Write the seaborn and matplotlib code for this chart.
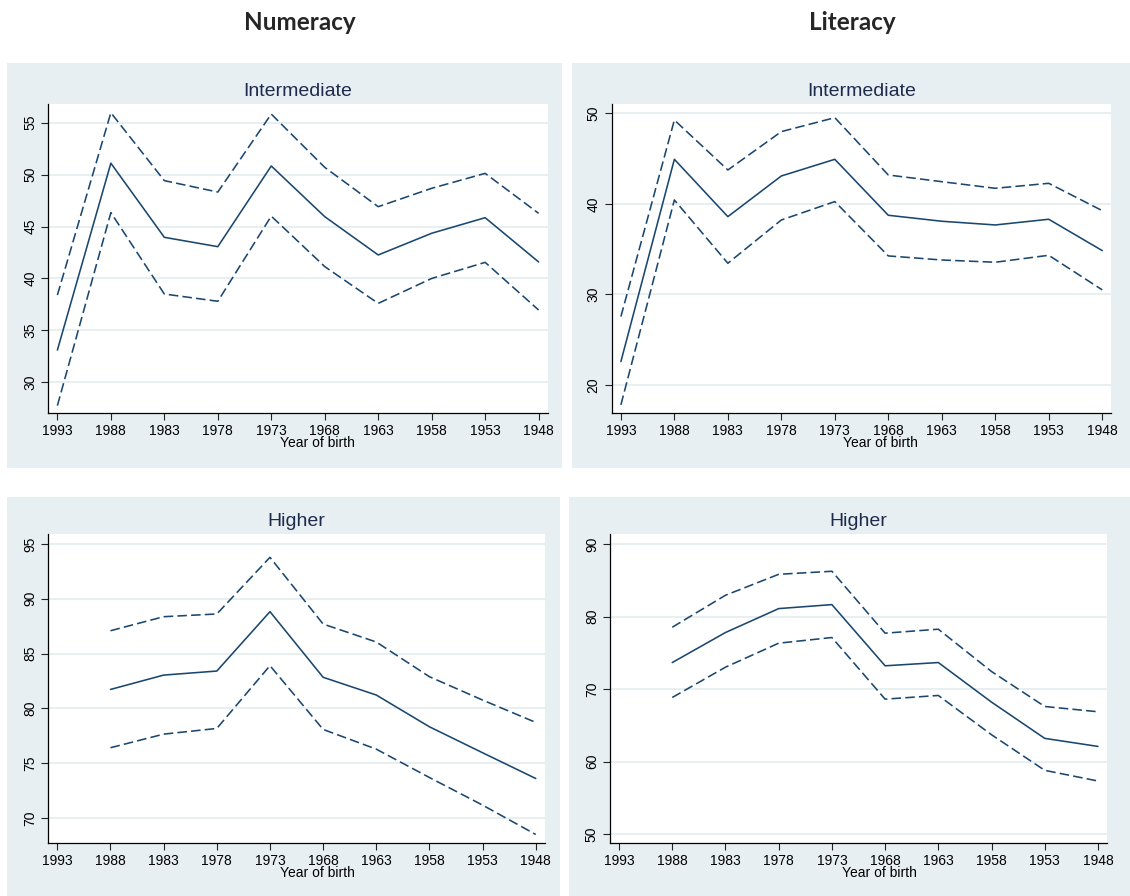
import numpy as np
import pandas as pd
import matplotlib
matplotlib.use("Agg")
import matplotlib.pyplot as plt
import seaborn as sns
from matplotlib.patches import Rectangle

# Birth cohorts (x axis runs from youngest to oldest)
years = [1993, 1988, 1983, 1978, 1973, 1968, 1963, 1958, 1953, 1948]
years_higher = [1988, 1983, 1978, 1973, 1968, 1963, 1958, 1953, 1948]

# Numeracy, intermediate education: estimate and 95% band
num_int_est = [33.1, 51.1, 43.96, 43.06, 50.83, 45.95, 42.26, 44.35, 45.85, 41.59]
num_int_hi = [38.4, 55.96, 49.42, 48.32, 55.83, 50.7, 46.91, 48.68, 50.12, 46.27]
num_int_lo = [27.75, 46.34, 38.5, 37.8, 46.0, 41.14, 37.6, 40.0, 41.55, 36.96]

# Literacy, intermediate education
lit_int_est = [22.58, 44.92, 38.59, 43.08, 44.92, 38.74, 38.08, 37.67, 38.3, 34.84]
lit_int_hi = [27.55, 49.26, 43.74, 47.98, 49.52, 43.19, 42.45, 41.72, 42.27, 39.25]
lit_int_lo = [17.8, 40.43, 33.44, 38.22, 40.25, 34.25, 33.8, 33.55, 34.32, 30.5]

# Numeracy, higher education
num_hig_est = [81.72, 83.03, 83.4, 88.82, 82.83, 81.21, 78.31, 75.94, 73.59]
num_hig_hi = [87.08, 88.36, 88.61, 93.78, 87.69, 86.05, 82.88, 80.75, 78.71]
num_hig_lo = [76.4, 77.64, 78.16, 83.89, 78.07, 76.27, 73.68, 71.16, 68.48]

# Literacy, higher education
lit_hig_est = [73.65, 77.79, 81.09, 81.64, 73.2, 73.65, 68.19, 63.19, 62.08]
lit_hig_hi = [78.52, 82.93, 85.82, 86.24, 77.7, 78.25, 72.41, 67.59, 66.86]
lit_hig_lo = [68.83, 73.01, 76.32, 77.1, 68.6, 69.11, 63.69, 58.78, 57.31]

column_titles = ["Numeracy", "Literacy"]
panel_titles = ["Intermediate", "Intermediate", "Higher", "Higher"]
x_label = "Year of birth"

sns.set_theme(style="white")
plt.rcParams["font.family"] = ["Liberation Sans", "DejaVu Sans"]

W, H = 1130, 896
fig = plt.figure(figsize=(W / 100, H / 100), dpi=100)
fig.patch.set_facecolor("white")

NAVY = "#1a476f"
PANEL_BG = "#e8eff2"
GRID = "#e3ecef"
TITLE_COL = "#1f2b4d"


def frac_rect(l, t, r, b):
    return [l / W, 1 - b / H, (r - l) / W, (b - t) / H]


panels = [
    dict(bg=(7, 63, 562, 468), ax=(48.3, 104, 547.7, 413), xs=years,
         est=num_int_est, hi=num_int_hi, lo=num_int_lo,
         ylim=(27.04, 56.8), yticks=[30, 35, 40, 45, 50, 55],
         title_y=91.7, xlabel_y=443),
    dict(bg=(572, 63, 1130, 468), ax=(611.8, 104, 1111.3, 413), xs=years,
         est=lit_int_est, hi=lit_int_hi, lo=lit_int_lo,
         ylim=(16.9, 51.03), yticks=[20, 30, 40, 50],
         title_y=91.7, xlabel_y=443),
    dict(bg=(7, 497, 560, 896), ax=(48.3, 534, 544.8, 842.7), xs=years_higher,
         est=num_hig_est, hi=num_hig_hi, lo=num_hig_lo,
         ylim=(67.73, 95.91), yticks=[70, 75, 80, 85, 90, 95],
         title_y=521.7, xlabel_y=873),
    dict(bg=(569, 497, 1130, 896), ax=(610, 534, 1107, 842.7), xs=years_higher,
         est=lit_hig_est, hi=lit_hig_hi, lo=lit_hig_lo,
         ylim=(48.8, 91.38), yticks=[50, 60, 70, 80, 90],
         title_y=521.7, xlabel_y=873),
]

for i, p in enumerate(panels):
    l, t, r, b = p["bg"]
    fig.patches.append(Rectangle((l / W, 1 - b / H), (r - l) / W, (b - t) / H,
                                 transform=fig.transFigure, facecolor=PANEL_BG,
                                 edgecolor="none", zorder=-5))
    ax = fig.add_axes(frac_rect(*p["ax"]))
    ax.set_zorder(2)
    ax.set_facecolor("white")

    for ys, ls in ((p["hi"], (0, (6, 2.6))), (p["est"], "-"), (p["lo"], (0, (6, 2.6)))):
        sns.lineplot(x=p["xs"], y=ys, ax=ax, color=NAVY, linewidth=1.15,
                     linestyle=ls, sort=False)

    ax.set_xlim(1993.85, 1947.15)
    ax.set_xticks(years)
    ax.set_xticklabels([str(y) for y in years])
    ax.set_ylim(*p["ylim"])
    ax.set_yticks(p["yticks"])
    ax.set_yticklabels([str(v) for v in p["yticks"]], rotation=90, va="center")
    ax.yaxis.grid(True, color=GRID, linewidth=1.2)
    ax.xaxis.grid(False)
    ax.set_axisbelow(True)
    for side in ("top", "right"):
        ax.spines[side].set_visible(False)
    for side in ("left", "bottom"):
        ax.spines[side].set_color("black")
        ax.spines[side].set_linewidth(0.9)
    ax.tick_params(axis="both", which="major", direction="out", length=5,
                   width=0.8, color="#222222", labelsize=10, labelcolor="black",
                   pad=3, bottom=True, left=True)
    ax.set_xlabel("")
    ax.set_ylabel("")

    al, at, ar, ab = p["ax"]
    cx = (al + ar) / 2
    fig.text(cx / W, 1 - p["title_y"] / H, panel_titles[i], ha="center",
             va="center", fontsize=14, color=TITLE_COL, zorder=3)
    fig.text((al + 269) / W, 1 - p["xlabel_y"] / H, x_label, ha="center",
             va="center", fontsize=10, color="black", zorder=3)

fig.text(299.7 / W, 1 - 22 / H, column_titles[0], ha="center", va="center",
         fontsize=17.5, fontweight="bold", family=["Lato", "DejaVu Sans"])
fig.text(852.5 / W, 1 - 22 / H, column_titles[1], ha="center", va="center",
         fontsize=17.5, fontweight="bold", family=["Lato", "DejaVu Sans"])

fig.savefig("out.png", dpi=100)
